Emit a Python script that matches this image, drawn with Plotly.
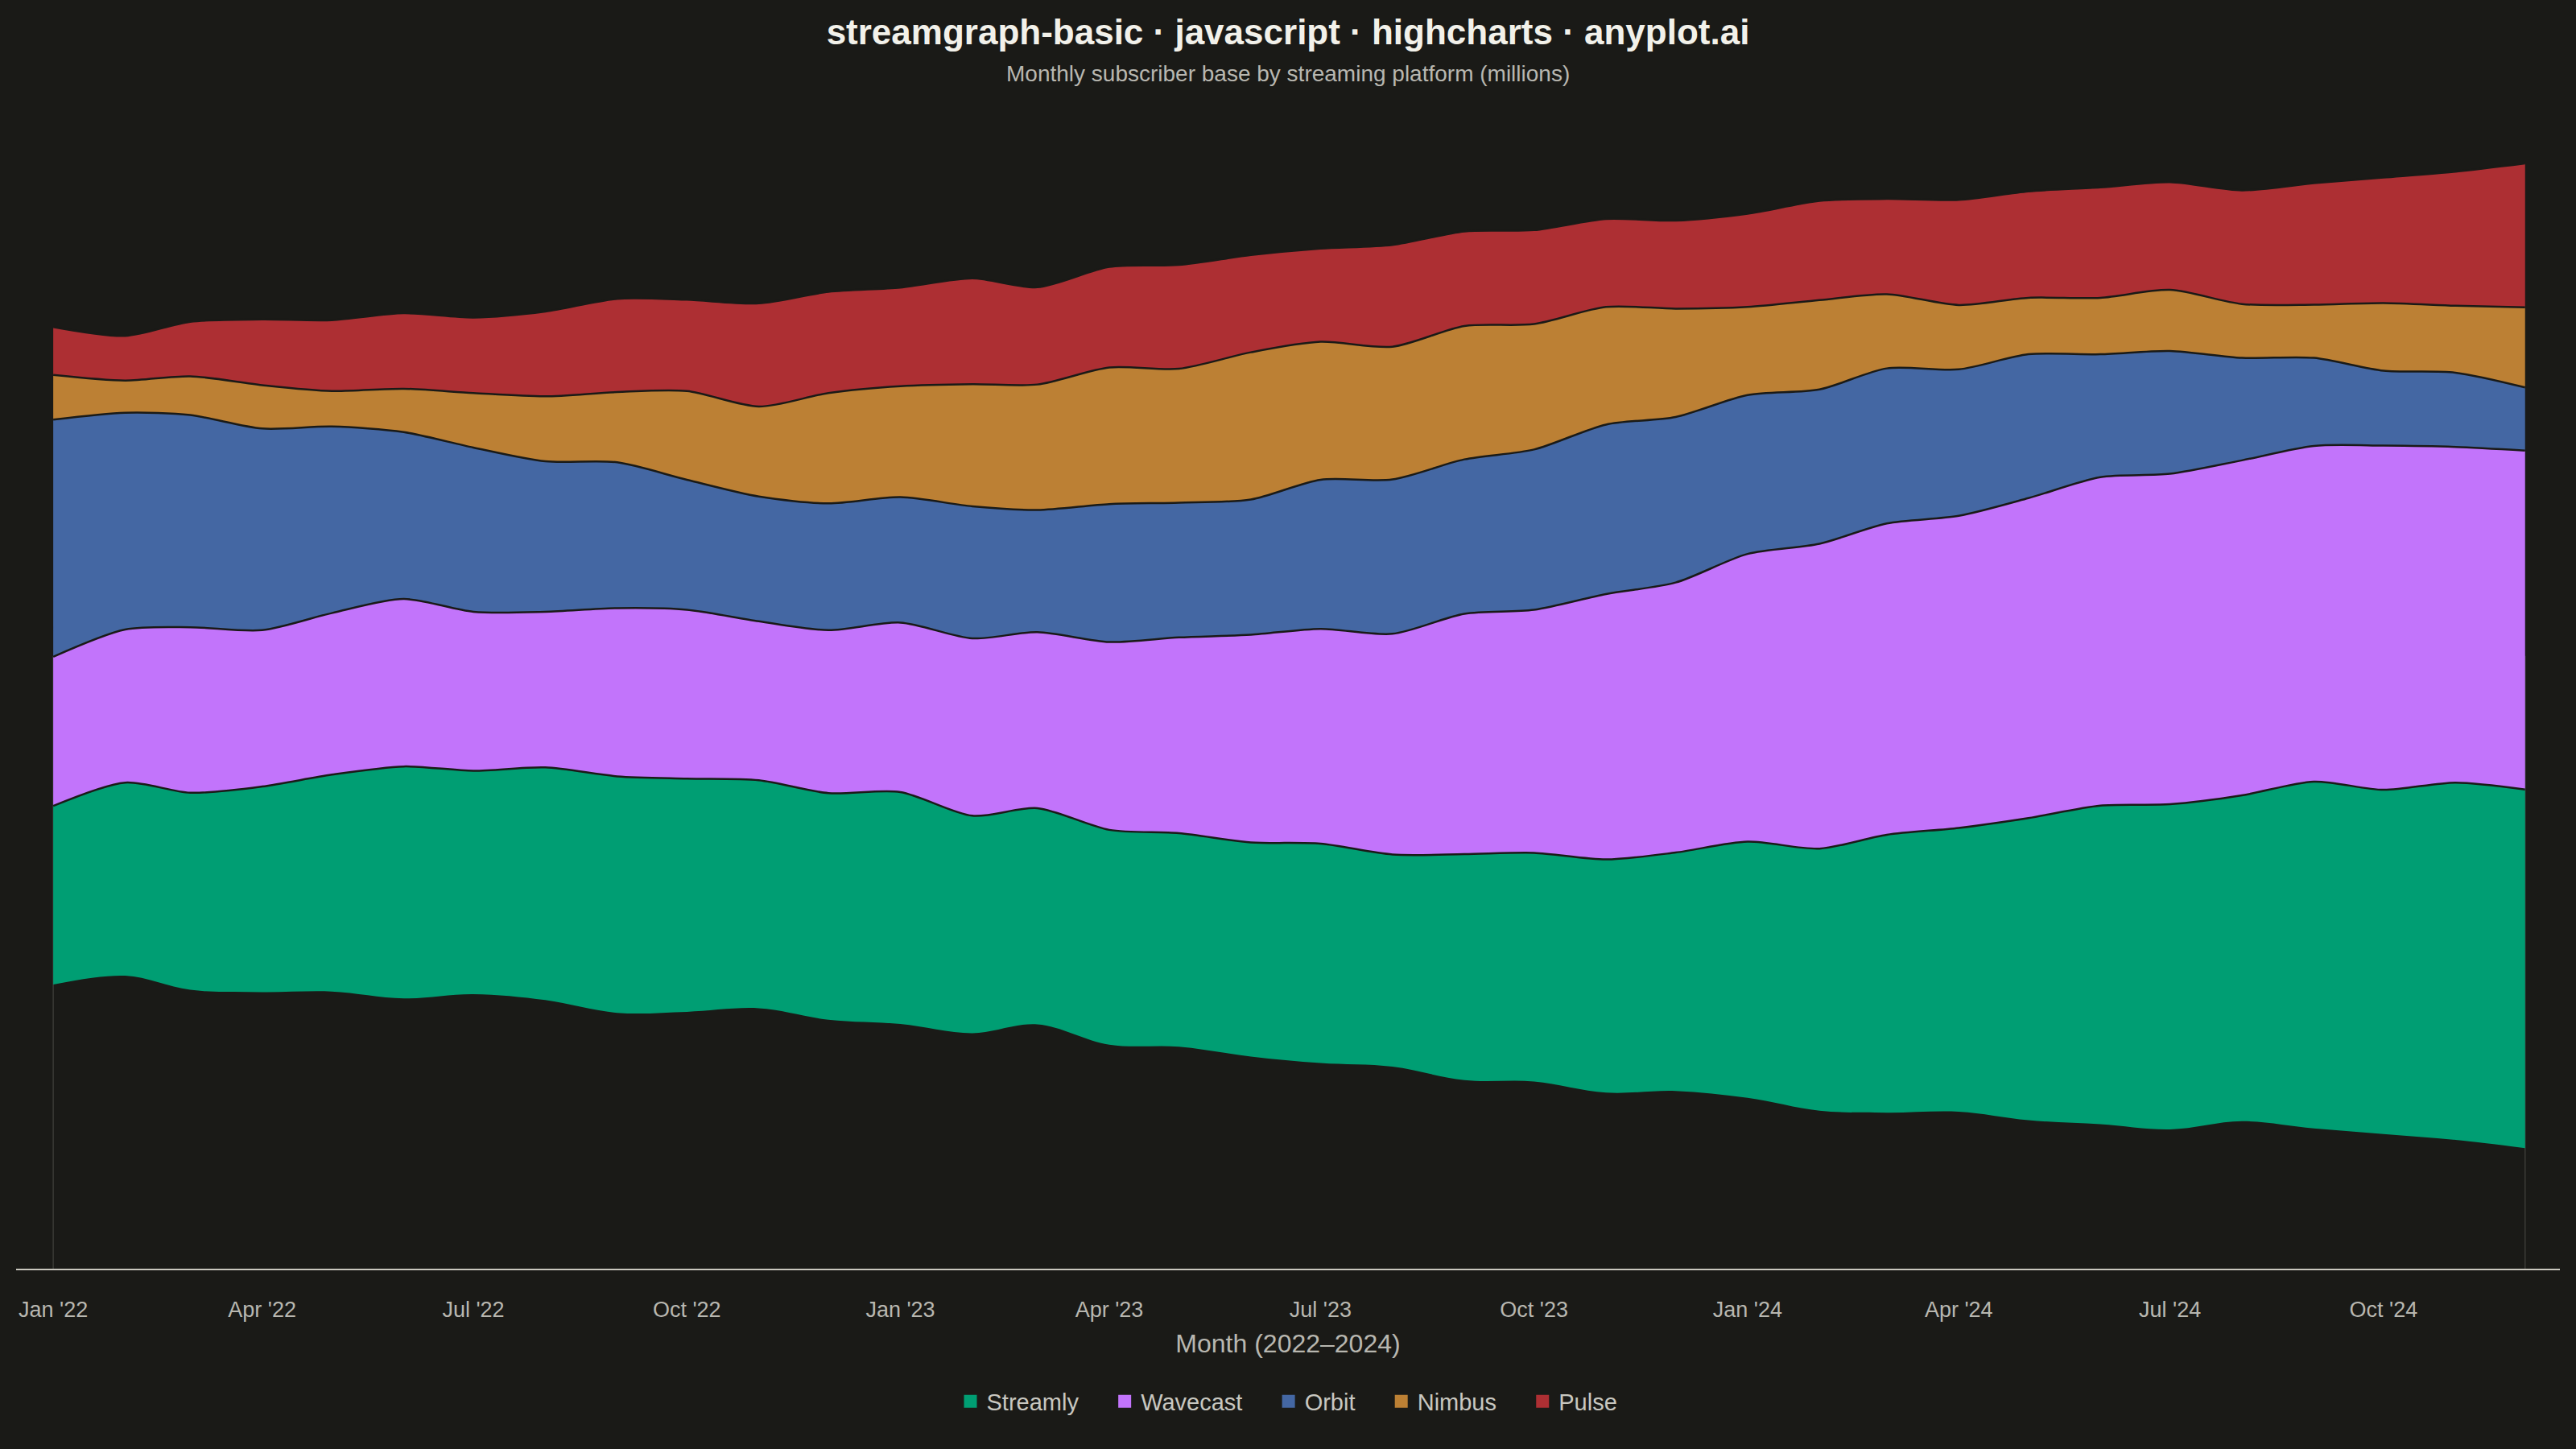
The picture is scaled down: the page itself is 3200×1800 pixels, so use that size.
import numpy as np
import pandas as pd
import plotly.graph_objects as go

# monthly subscribers (millions), Jan 2022 - Dec 2024
months = pd.date_range("2022-01-01", periods=36, freq="MS")

streamly = [27.2, 29.4, 30.0, 31.3, 33.0, 35.3, 34.0, 35.4, 36.0, 35.5, 34.7, 34.5,
            35.3, 33.1, 32.9, 32.7, 32.5, 32.6, 33.4, 32.3, 34.4, 34.8, 35.5, 36.3,
            39.0, 39.9, 42.3, 43.2, 46.0, 48.5, 49.5, 49.6, 52.8, 52.4, 54.4, 54.6]
wavecast = [22.7, 23.3, 25.2, 23.8, 24.6, 25.5, 24.2, 23.7, 25.6, 25.7, 24.2, 24.8,
            25.8, 27.0, 26.8, 28.6, 29.8, 31.6, 32.7, 33.6, 36.6, 37.0, 40.4, 41.1,
            43.8, 46.4, 47.4, 47.5, 48.7, 50.0, 50.3, 51.0, 51.1, 52.4, 51.1, 51.6]
orbit = [36.1, 33.0, 32.3, 30.7, 28.4, 25.4, 25.0, 22.9, 22.2, 19.8, 19.0, 19.3,
         19.1, 20.1, 18.6, 21.0, 20.5, 20.6, 22.7, 23.5, 23.5, 24.4, 25.8, 25.2,
         24.2, 23.5, 23.6, 22.3, 21.9, 18.7, 18.7, 15.6, 13.4, 11.4, 11.3, 9.6]
nimbus = [6.8, 4.9, 5.9, 6.6, 5.4, 6.6, 8.3, 9.9, 10.7, 13.5, 13.7, 16.8,
          16.9, 18.6, 19.1, 20.8, 20.4, 22.4, 21.0, 20.2, 20.3, 19.1, 17.9, 16.5,
          13.4, 13.6, 11.3, 9.8, 8.6, 8.6, 9.3, 8.2, 8.1, 10.3, 10.2, 12.2]
pulse = [7.3, 6.8, 8.3, 10.0, 10.8, 11.5, 11.5, 12.9, 14.2, 13.9, 15.7, 15.4,
         15.0, 16.1, 14.8, 15.3, 15.8, 14.8, 14.2, 15.5, 14.4, 14.3, 13.4, 13.4,
         14.2, 15.1, 14.5, 16.0, 16.2, 16.8, 16.4, 17.3, 18.5, 19.1, 20.4, 21.9]

names = ["Streamly", "Wavecast", "Orbit", "Nimbus", "Pulse"]
colors = ["#009E73", "#C274FB", "#4467A3", "#BC8034", "#AD2F33"]

BG = "#1A1A17"
FONT = "Liberation Sans, Arial, sans-serif"

series = np.array([streamly, wavecast, orbit, nimbus, pulse])
total = series.sum(axis=0)
base = -total / 2  # centred ("stream") stacking

fig = go.Figure()

# thin edge lines at first/last month, hidden under the stream
fig.add_trace(go.Scatter(x=[months[0], months[0], None, months[-1], months[-1]],
                         y=[-93.3, 0, None, -93.3, 0], mode="lines",
                         line=dict(color="#3A3A36", width=1.5),
                         showlegend=False, hoverinfo="skip"))

fig.add_trace(go.Scatter(x=months, y=base, mode="lines", line=dict(width=0, shape="spline"),
                         showlegend=False, hoverinfo="skip"))

level = base.copy()
for name, vals, col in zip(names, series, colors):
    level = level + vals
    fig.add_trace(go.Scatter(
        x=months, y=level, name=name, mode="lines", fill="tonexty",
        fillcolor=col, line=dict(color=BG, width=2.5, shape="spline", smoothing=0.8),
        legendgroup=name, showlegend=False,
        customdata=vals, hovertemplate="%{x|%b %Y}<br>" + name + ": %{customdata} M<extra></extra>",
    ))

# square legend keys
for i, (name, col) in enumerate(zip(names, colors)):
    pad = "" if i == len(names) - 1 else "&nbsp;" * 4
    fig.add_trace(go.Scatter(
        x=[None], y=[None], name=name + pad, mode="markers", legendgroup=name,
        marker=dict(symbol="square", size=16, color=col, line=dict(width=0)),
    ))

fig.update_layout(
    width=3200, height=1800,
    paper_bgcolor=BG, plot_bgcolor=BG,
    font=dict(family=FONT, color="#B8B7B0", size=27),
    margin=dict(l=20, r=20, t=130, b=224),
    title=dict(
        text="<b>streamgraph-basic · javascript · highcharts · anyplot.ai</b>",
        x=0.5, xanchor="center", y=0.978, yanchor="middle", yref="container",
        font=dict(size=44, color="#F2F1EA", family=FONT),
    ),
    annotations=[dict(
        text="Monthly subscriber base by streaming platform (millions)",
        xref="paper", yref="paper", x=0.5, y=1.0263,
        xanchor="center", yanchor="middle", showarrow=False,
        font=dict(size=28, color="#B8B7B0", family=FONT),
    )],
    xaxis=dict(
        type="date", range=["2021-12-16", "2024-12-16"],
        tick0="2022-01-01", dtick="M3", tickformat="%b '%y",
        showgrid=False, zeroline=False, showline=True, linecolor="#C9C7BE", linewidth=2,
        ticks="", ticklabelstandoff=26, tickfont=dict(size=27, color="#B8B7B0"),
        title=dict(text="Month (2022–2024)", font=dict(size=32, color="#B8B7B0"), standoff=16),
    ),
    yaxis=dict(range=[-93.3, 83.9], visible=False, showgrid=False, zeroline=False),
    legend=dict(orientation="h", x=0.5, xanchor="center", y=-0.114, yanchor="middle",
                font=dict(size=29, color="#C8C7C0"), bgcolor="rgba(0,0,0,0)",
                itemwidth=30, traceorder="normal"),
    hovermode="x unified",
)

fig.write_html("out.html", config={"displayModeBar": False},
               post_script="document.body.style.margin='0';")
